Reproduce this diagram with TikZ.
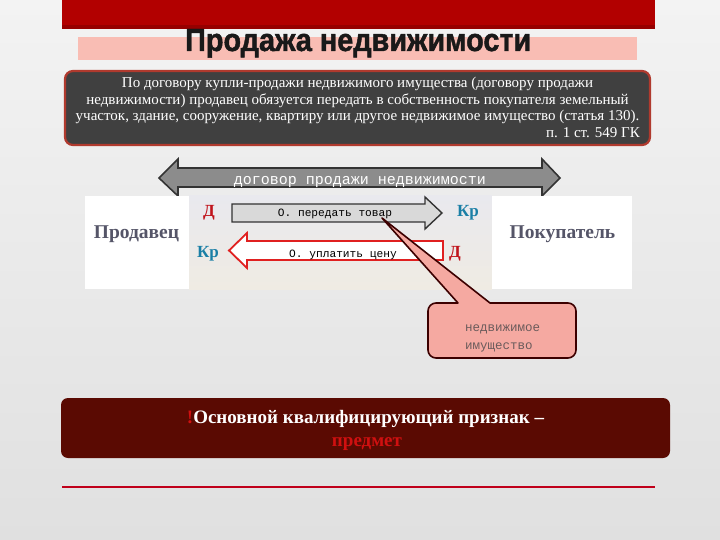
\documentclass[tikz,border=0pt]{standalone}
\usepackage{fontspec}
\usepackage{graphicx}
\setmainfont{Liberation Serif}
\newfontfamily\titleface[FakeBold=1.5]{Liberation Sans}
\newfontfamily\monoface{Liberation Mono}
\definecolor{barred}{HTML}{B20000}
\definecolor{bardark}{HTML}{960000}
\definecolor{pinkband}{HTML}{F9BDB4}
\definecolor{darkbox}{HTML}{404040}
\definecolor{darkborder}{HTML}{B03A2E}
\definecolor{maroon}{HTML}{5A0A02}
\definecolor{qred}{HTML}{D01010}
\definecolor{lineRed}{HTML}{C0001A}
\definecolor{labgray}{HTML}{555568}
\definecolor{dred}{HTML}{C0141C}
\definecolor{krblue}{HTML}{1A7FA6}
\definecolor{callfill}{HTML}{F5A9A1}
\definecolor{callline}{HTML}{3C0000}
\definecolor{calltext}{HTML}{6B5B5B}
\definecolor{arrowred}{HTML}{E02020}
\definecolor{paneltop}{HTML}{E9E9EE}
\definecolor{panelbot}{HTML}{EFEBE3}
\definecolor{bgtop}{HTML}{F3F3F3}
\definecolor{bgbot}{HTML}{E0E0E0}
\tikzset{
  bodytxt/.style={anchor=base, inner sep=0pt, text=white, font=\fontsize{15}{17}\selectfont},
  partylab/.style={anchor=base, inner sep=0pt, text=labgray, font=\bfseries\fontsize{19.5}{22}\selectfont},
  dletter/.style={anchor=base, inner sep=0pt, text=dred, font=\bfseries\fontsize{17}{20}\selectfont},
  krletter/.style={anchor=base, inner sep=0pt, text=krblue, font=\bfseries\fontsize{17}{20}\selectfont},
  monotxt/.style={anchor=base, inner sep=0pt, font=\monoface\fontsize{11.2}{13}\selectfont},
  garrow/.style={draw=black!80, line width=1.6pt, fill=black!45, line join=miter},
  rarrowgray/.style={draw=black!80, line width=1.4pt, fill=black!15, line join=miter},
  larrowred/.style={draw=arrowred, line width=1.8pt, fill=white, line join=miter},
  callstyle/.style={draw=callline, line width=1.6pt, fill=callfill, line join=round},
  calltxt/.style={anchor=base west, inner sep=0pt, text=calltext, font=\monoface\fontsize{12.5}{14}\selectfont},
  qtxt/.style={anchor=base, inner sep=0pt, font=\bfseries\fontsize{19}{21}\selectfont},
}
\begin{document}
\begin{tikzpicture}[x=1pt,y=-1pt]
\useasboundingbox (0,0) rectangle (720,540);
% background
\shade[top color=bgtop, bottom color=bgbot] (0,0) rectangle (720,540);
% top bar and band
\fill[barred] (62,0) rectangle (655,29);
\fill[bardark] (62,25) rectangle (655,29);
\fill[pinkband] (78,37) rectangle (637,60);
\node[anchor=base west, inner sep=0pt, text=black!90] (title) at (185,51)
  {\resizebox{346pt}{22pt}{\titleface\bfseries Продажа недвижимости}};
% definition box
\draw[fill=darkbox, draw=darkborder, line width=2.2pt, rounded corners=8] (65,71) rectangle (650,145);
\node[bodytxt] (l1) at (357.5,88) {По договору купли-продажи недвижимого имущества (договору продажи};
\node[bodytxt] (l2) at (357.5,104.5) {недвижимости) продавец обязуется передать в собственность покупателя земельный};
\node[bodytxt] (l3) at (357.5,121) {участок, здание, сооружение, квартиру или другое недвижимое имущество (статья 130).};
\node[bodytxt, anchor=base east] (l4) at (640,137.5) {п. 1 ст. 549 ГК};
% double arrow
\draw[garrow] (159,178) -- (178,159) -- (178,168) -- (542,168) -- (542,159) -- (560,178)
  -- (542,196) -- (542,187) -- (178,187) -- (178,196) -- cycle;
\node[anchor=base, inner sep=0pt, text=white, font=\monoface\fontsize{15}{17}\selectfont] (contract) at (360,185)
  {договор продажи недвижимости};
% party boxes and middle panel
\fill[white] (85,196) rectangle (189,289);
\shade[top color=paneltop, bottom color=panelbot] (189,196) rectangle (492,289);
\fill[white] (492,196) rectangle (632,289);
\node[partylab] (seller) at (136.5,239) {Продавец};
\node[partylab] (buyer) at (562.5,238) {Покупатель};
% D / Kr labels
\node[dletter] (d1) at (209,217) {Д};
\node[krletter] (k1) at (468,217) {Кр};
\node[krletter] (k2) at (208,258) {Кр};
\node[dletter] (d2) at (455,258) {Д};
% obligation arrows
\draw[rarrowgray] (232,204) -- (425,204) -- (425,197) -- (442,213) -- (425,229) -- (425,222) -- (232,222) -- cycle;
\node[monotxt] (give) at (335,217) {О. передать товар};
\draw[larrowred] (229,250.5) -- (247,233) -- (247,241) -- (443,241) -- (443,260) -- (247,260) -- (247,268) -- cycle;
\node[monotxt] (pay) at (343,257) {О. уплатить цену};
% callout
\coordinate (tip) at (382,218);
\draw[callstyle] (tip) -- (490,303) -- (500,303) [rounded corners=8] -- (576,303) -- (576,358)
  -- (428,358) -- (428,303) -- (448,303) [sharp corners] -- (458,303) -- cycle;
\node[calltxt] (c1) at (465,331) {недвижимое};
\node[calltxt] (c2) at (465,349) {имущество};
% bottom box
\fill[maroon, rounded corners=7] (61,398) rectangle (670,458);
\node[qtxt, text=white] (q1) at (365.5,423) {\textcolor{qred}{!}Основной квалифицирующий признак –};
\node[qtxt, text=qred] (q2) at (367,446) {предмет};
\draw[lineRed, line width=2.5pt] (62,487) -- (655,487);
\end{tikzpicture}
\end{document}
